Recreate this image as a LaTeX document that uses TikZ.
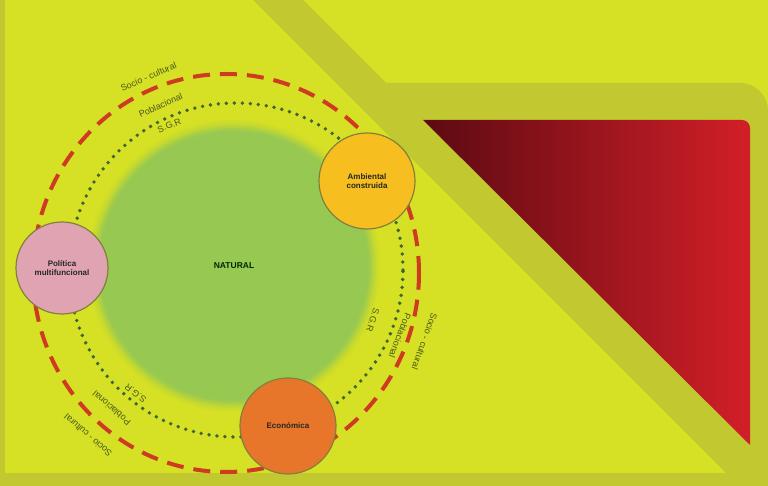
\documentclass[tikz,border=0pt]{standalone}
\usepackage{fontspec}
\setmainfont{Liberation Sans}
\definecolor{bgy}{RGB}{214,224,36}
\definecolor{oliveband}{RGB}{194,200,48}
\definecolor{reddark}{RGB}{92,10,18}
\definecolor{redbright}{RGB}{210,31,40}
\definecolor{natgreen}{RGB}{150,200,82}
\definecolor{pinkc}{RGB}{224,163,178}
\definecolor{goldc}{RGB}{246,190,30}
\definecolor{orangec}{RGB}{232,118,42}
\definecolor{ringline}{RGB}{130,128,60}
\definecolor{dashred}{RGB}{206,58,34}
\definecolor{dotgreen}{RGB}{62,100,48}
\definecolor{lbltxt}{RGB}{72,88,26}
\begin{document}
\begin{tikzpicture}[x=1pt,y=1pt,
  arclbl/.style={font=\fontsize{9}{10}\selectfont, text=lbltxt, inner sep=0pt},
  ring/.style={circle, draw=ringline, line width=1.2pt, minimum size=96pt, inner sep=0pt,
    align=center, font=\fontsize{8}{9.5}\selectfont\bfseries, text=black!85},
  dashring/.style={draw=dashred, line width=4pt, dash pattern=on 17pt off 10pt},
  dotring/.style={draw=dotgreen, line width=3.8pt, line cap=round, dash pattern=on 0pt off 8pt}]
\useasboundingbox (0,0) rectangle (768,486);
% background
\fill[bgy] (0,0) rectangle (768,486);
\fill[oliveband] (253,486) -- (303,486) -- (386,403) -- (740,403)
  arc[start angle=90,end angle=0,radius=28] -- (768,0) -- (739,0) -- cycle;
\fill[oliveband] (0,0) rectangle (768,13);
\fill[oliveband] (0,0) rectangle (5,486);
\shade[left color=reddark, right color=redbright] (423,366) -- (742,366)
  arc[start angle=90,end angle=0,radius=8] -- (750,41) -- cycle;
% rings
\coordinate (C) at (231,215);
\draw[dashring] (226,213) ellipse [x radius=193, y radius=199];
\draw[dotring] (236,216) circle (167);
% natural circle with soft edge
\foreach \r/\p in {146/8,144/20,142/35,140/55,138/75,136/90}
  \fill[natgreen!\p!bgy] (234,220) circle (\r);
\node[circle, fill=natgreen, minimum size=268pt, inner sep=0pt,
  font=\fontsize{8.5}{10}\selectfont\bfseries, text=black!85!green] (nat) at (234,220) {NATURAL};
% arc labels
\node[arclbl, rotate=23] (sc1) at ([shift={(113:211)}]C) {Socio - cultural};
\node[arclbl, rotate=23] (pb1) at ([shift={(113:180)}]C) {Poblacional};
\node[arclbl, rotate=23] (sg1) at ([shift={(113:158)}]C) {S.G.R};
\node[arclbl, rotate=-110] (sc2) at ([shift={(-20:206)}]C) {Socio - cultural};
\node[arclbl, rotate=-111] (pb2) at ([shift={(-21:181)}]C) {Poblacional};
\node[arclbl, rotate=-109] (sg2) at ([shift={(-19:150)}]C) {S.G.R};
\node[arclbl, rotate=139] (sc3) at ([shift={(229:218)}]C) {Socio - cultural};
\node[arclbl, rotate=139] (pb3) at ([shift={(229:182)}]C) {Poblacional};
\node[arclbl, rotate=142] (sg3) at ([shift={(232:155)}]C) {S.G.R};
% dimension circles
\node[ring, fill=pinkc, minimum size=92pt] (pol) at (62,218) {Política\\multifuncional};
\node[ring, fill=goldc] (amb) at (367,305) {Ambiental\\construida};
\node[ring, fill=orangec] (eco) at (288,60) {Económica};
\end{tikzpicture}
\end{document}
